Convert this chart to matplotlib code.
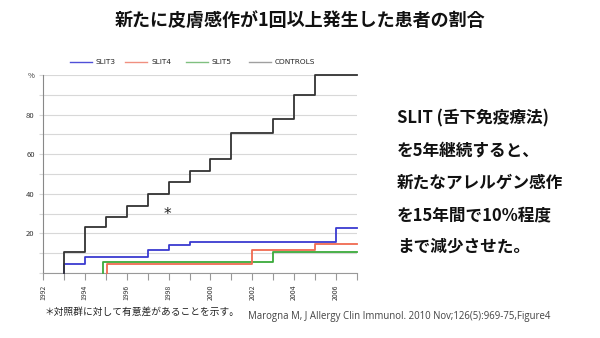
import matplotlib
matplotlib.use("Agg")
import matplotlib.pyplot as plt
import numpy as np

plt.rcParams['font.family'] = ['Noto Sans CJK JP', 'DejaVu Sans']

# Data (year of step, cumulative %)
controls_x = [1993, 1993, 1994, 1995, 1996, 1997, 1998, 1999, 2000, 2001, 2003, 2004, 2005, 2007]
controls_y = [0, 10.6, 23.4, 28.5, 33.8, 39.7, 46.1, 51.5, 57.6, 70.9, 77.6, 90.0, 100.0, 100.0]
slit3_x = [1993, 1993, 1994, 1997, 1998, 1999, 2006, 2007]
slit3_y = [0, 4.4, 7.9, 11.6, 14.0, 15.8, 22.9, 22.9]
slit4_x = [1995.05, 1995.05, 2002, 2005, 2007]
slit4_y = [0, 4.4, 11.8, 14.5, 14.5]
slit5_x = [1994.85, 1994.85, 2003, 2007]
slit5_y = [0, 5.6, 10.4, 10.4]

legend_labels = ["SLIT3", "SLIT4", "SLIT5", "CONTROLS"]
colors = ["#3a3ad0", "#f06a50", "#3aaa3a", "#333333"]
legend_colors = ["#5050d8", "#f09080", "#80c080", "#a0a0a0"]
y_tick_vals = [20, 40, 60, 80, 100]
y_tick_labels = ["20", "40", "60", "80", "%"]
x_label_years = list(range(1992, 2007, 2))

title = "新たに皮膚感作が1回以上発生した患者の割合"
side_lines = ["SLIT (舌下免疫療法)", "を5年継続すると、", "新たなアレルゲン感作", "を15年間で10%程度", "まで減少させた。"]
footnote = "＊対照群に対して有意差があることを示す。"
citation = "Marogna M, J Allergy Clin Immunol. 2010 Nov;126(5):969-75,Figure4"

fig = plt.figure(figsize=(6, 3.38), dpi=100)
ax = fig.add_axes([43/600, 1-273/338, (357-43)/600, (273-75)/338])

for xs, ys, c in [(slit5_x, slit5_y, colors[2]), (slit4_x, slit4_y, colors[1]),
                  (slit3_x, slit3_y, colors[0]), (controls_x, controls_y, colors[3])]:
    ax.step(xs, ys, where='post', color=c, lw=1.3, clip_on=False, zorder=3)

ax.set_xlim(1992, 2007)
ax.set_ylim(0, 100)
ax.set_yticks(y_tick_vals)
ax.set_yticklabels(y_tick_labels)
ax.set_yticks(np.arange(0, 101, 10), minor=True)
ax.yaxis.grid(True, which='both', color="#d8d8d8", lw=0.8)
ax.set_axisbelow(True)
ax.tick_params(axis='y', which='both', length=3, color="#d8d8d8", width=0.8,
               labelsize=5.5, labelcolor="#333333", pad=3)
ax.set_xticks(x_label_years)
ax.set_xticklabels([str(y) for y in x_label_years], rotation=90, fontsize=5, color="#333333")
ax.set_xticks(range(1992, 2008), minor=True)
ax.tick_params(axis='x', which='both', length=5, color="#999999", width=0.8)
for s in ['top', 'right']:
    ax.spines[s].set_visible(False)
ax.spines['left'].set_color("#888888")
ax.spines['bottom'].set_color("#999999")

ax.text(1997.95, 29.3, "*", fontsize=11, ha='center', va='center', color="#222222", family='DejaVu Sans')

# legend
leg_x = [70, 125, 186, 249]
for lx, lab, lc in zip(leg_x, legend_labels, legend_colors):
    fig.add_artist(plt.Line2D([lx/600, (lx+22)/600], [1-62/338, 1-62/338], color=lc, lw=1.0))
    fig.text((lx+26)/600, 1-62/338, lab, fontsize=5.3, va='center', ha='left', color="#222222", family='DejaVu Sans')

fig.text(0.5, 1-20/338, title, fontsize=13, fontweight='bold', ha='center', va='center', color="#111111")

side_y = [118, 151, 183, 215, 247]
for sy, line in zip(side_y, side_lines):
    fig.text(397/600, 1-sy/338, line, fontsize=12, fontweight='bold', ha='left', va='center', color="#111111")

fig.text(45/600, 1-312/338, footnote, fontsize=7, ha='left', va='center', color="#222222")
fig.text(248/600, 1-316/338, citation, fontsize=6.9, ha='left', va='center', color="#444444", family='Open Sans')

fig.savefig("out.png", dpi=100)
